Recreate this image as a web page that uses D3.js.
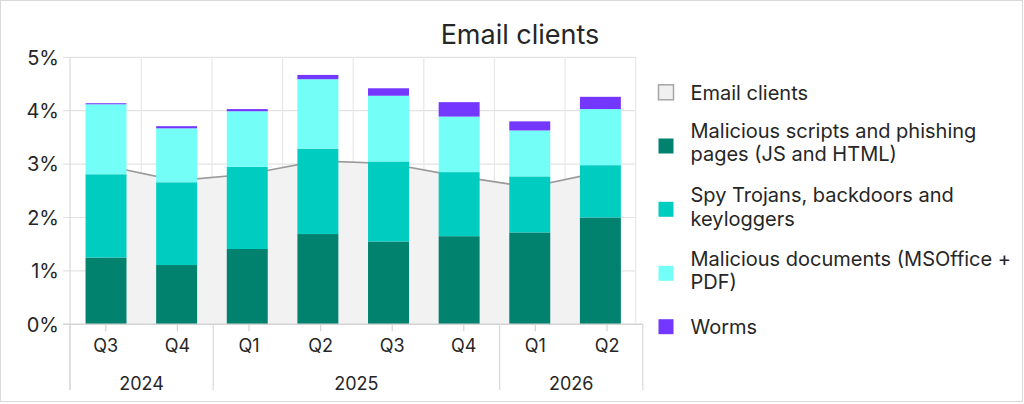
<!DOCTYPE html>
<html>
<head>
<meta charset="utf-8">
<script src="https://cdn.jsdelivr.net/npm/d3@7"></script>
<style>
  html, body { margin: 0; padding: 0; background: #fff; }
  svg { display: block; font-family: "Inter", "Noto Sans", sans-serif; }
</style>
</head>
<body>
<svg id="chart" width="1024" height="404"></svg>
<script>
// ---- data ----
const quarters = ["Q3", "Q4", "Q1", "Q2", "Q3", "Q4", "Q1", "Q2"];
const yearLabels = ["2024", "2025", "2026"];
const yearSpans = [2, 4, 2];
const emailClients = [2.97, 2.69, 2.81, 3.06, 3.01, 2.77, 2.57, 2.85];
const scripts = [1.25, 1.11, 1.41, 1.69, 1.55, 1.65, 1.72, 2.00];
const spyTrojans = [1.56, 1.55, 1.54, 1.60, 1.50, 1.20, 1.05, 0.98];
const documentsMal = [1.31, 1.01, 1.04, 1.30, 1.23, 1.04, 0.86, 1.05];
const worms = [0.02, 0.04, 0.04, 0.08, 0.14, 0.27, 0.17, 0.23];
const yTicks = [0, 1, 2, 3, 4, 5];

// ---- styles ----
const colors = ["#00826f", "#00ccc0", "#73fff7", "#7337ff"];
const textColor = "#262626";

const svg = d3.select("#chart");

// border
svg.append("rect").attr("x", 0.5).attr("y", 0.5).attr("width", 1022).attr("height", 401)
  .attr("fill", "#fff").attr("stroke", "#d9d9d9");

const idx = d3.range(quarters.length);
const plotL = 70.7, plotR = 635.7, axisR = 642.8;
const y = d3.scaleLinear().domain([0, 5]).range([324.3, 57.3]);
const xBar = d3.scaleBand().domain(idx).range([plotL, plotR]).paddingInner(0.42).paddingOuter(0.21);
const xGrid = d3.scaleBand().domain(idx).range([plotL, plotR]);
const xAxisS = d3.scaleBand().domain(idx).range([70, axisR]);

// title
svg.append("text").attr("x", 520).attr("y", 44).attr("text-anchor", "middle")
  .attr("font-size", 27).attr("fill", textColor).text("Email clients");

// horizontal gridlines + y labels
const gy = svg.append("g");
gy.selectAll("line").data(yTicks.filter(d => d > 0)).join("line")
  .attr("x1", 63).attr("x2", plotR).attr("y1", d => y(d)).attr("y2", d => y(d))
  .attr("stroke", "#e3e3e3").attr("stroke-width", 1.2);
gy.selectAll("text").data(yTicks).join("text")
  .attr("x", 59).attr("y", d => y(d)).attr("dy", "0.36em").attr("text-anchor", "end")
  .attr("font-size", 20).attr("fill", textColor).text(d => d + "%");

// vertical gridlines at band boundaries
svg.append("g").selectAll("line").data(idx).join("line")
  .attr("x1", d => xGrid(d) + xGrid.step()).attr("x2", d => xGrid(d) + xGrid.step())
  .attr("y1", y(5)).attr("y2", y(0))
  .attr("stroke", "#e8e8e8").attr("stroke-width", 1.2);

// area (Email clients)
const cx = i => xBar(i) + xBar.bandwidth() / 2;
svg.append("path").datum(idx)
  .attr("d", d3.area().x(i => cx(i)).y0(y(0)).y1(i => y(emailClients[i])))
  .attr("fill", "#f2f2f2");
svg.append("path").datum(idx)
  .attr("d", d3.line().x(i => cx(i)).y(i => y(emailClients[i])))
  .attr("fill", "none").attr("stroke", "#9a9a9a").attr("stroke-width", 1.6);

// stacked bars
const rows = idx.map(i => ({ i, s0: scripts[i], s1: spyTrojans[i], s2: documentsMal[i], s3: worms[i] }));
const stack = d3.stack().keys(["s0", "s1", "s2", "s3"])(rows);
svg.append("g").selectAll("g").data(stack).join("g")
  .attr("fill", (d, k) => colors[k])
  .selectAll("rect").data(d => d).join("rect")
  .attr("x", d => xBar(d.data.i)).attr("width", xBar.bandwidth())
  .attr("y", d => y(d[1])).attr("height", d => y(d[0]) - y(d[1]));

// y axis line (extends down through category area)
svg.append("line").attr("x1", 70).attr("x2", 70).attr("y1", y(5)).attr("y2", 390)
  .attr("stroke", "#d9d9d9").attr("stroke-width", 1.2);
// x axis line
svg.append("line").attr("x1", 63).attr("x2", axisR).attr("y1", y(0)).attr("y2", y(0))
  .attr("stroke", "#d4d4d4").attr("stroke-width", 1.5);

// x ticks at centers + quarter labels
const ax = i => xAxisS(i) + xAxisS.bandwidth() / 2;
svg.append("g").selectAll("line").data(idx).join("line")
  .attr("x1", ax).attr("x2", ax).attr("y1", y(0)).attr("y2", y(0) + 7)
  .attr("stroke", "#d4d4d4").attr("stroke-width", 1.2);
svg.append("g").selectAll("text").data(idx).join("text")
  .attr("x", ax).attr("y", 351.5).attr("text-anchor", "middle")
  .attr("font-size", 18).attr("fill", textColor).text(i => quarters[i]);

// year groups
const starts = yearSpans.map((s, k) => d3.sum(yearSpans.slice(0, k)));
const bounds = [0].concat(yearSpans.map((s, k) => starts[k] + s));
svg.append("g").selectAll("line").data(bounds).join("line")
  .attr("x1", b => b < quarters.length ? xAxisS(b) : axisR)
  .attr("x2", b => b < quarters.length ? xAxisS(b) : axisR)
  .attr("y1", y(0)).attr("y2", 390)
  .attr("stroke", "#d9d9d9").attr("stroke-width", 1.2);
svg.append("g").selectAll("text").data(yearLabels).join("text")
  .attr("x", (d, k) => {
    const a = xAxisS(starts[k]);
    const e = starts[k] + yearSpans[k] < quarters.length ? xAxisS(starts[k] + yearSpans[k]) : axisR;
    return (a + e) / 2;
  })
  .attr("y", 389.5).attr("text-anchor", "middle")
  .attr("font-size", 18).attr("fill", textColor).text(d => d);

// legend
const legend = [
  { name: ["Email clients"], fill: "#f0f0f0", stroke: "#a6a6a6", ty: 92.3, sy: 92.3 },
  { name: ["Malicious scripts and phishing", "pages (JS and HTML)"], fill: colors[0], ty: 130.7, sy: 146 },
  { name: ["Spy Trojans, backdoors and", "keyloggers"], fill: colors[1], ty: 195, sy: 209.3 },
  { name: ["Malicious documents (MSOffice +", "PDF)"], fill: colors[2], ty: 258.3, sy: 273.3 },
  { name: ["Worms"], fill: colors[3], ty: 326.7, sy: 326.7 }
];
const lg = svg.append("g").selectAll("g").data(legend).join("g");
lg.append("rect").attr("x", 658.5).attr("y", d => d.sy - 7.5).attr("width", 15).attr("height", 15)
  .attr("fill", d => d.fill).attr("stroke", d => d.stroke || "none").attr("stroke-width", 1.5);
lg.each(function (d) {
  const t = d3.select(this).append("text").attr("font-size", 20).attr("fill", textColor);
  d.name.forEach((line, j) => {
    t.append("tspan").attr("x", 690.5).attr("y", d.ty + j * 23.3).attr("dy", "0.36em").text(line);
  });
});
</script>
</body>
</html>
